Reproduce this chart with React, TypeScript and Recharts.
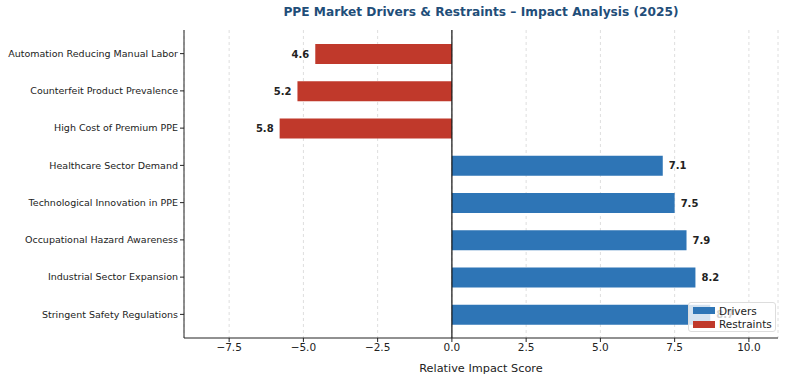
import { BarChart, Bar, XAxis, YAxis, CartesianGrid, ReferenceLine, LabelList } from 'recharts';

const categories = [
  'Automation Reducing Manual Labor',
  'Counterfeit Product Prevalence',
  'High Cost of Premium PPE',
  'Healthcare Sector Demand',
  'Technological Innovation in PPE',
  'Occupational Hazard Awareness',
  'Industrial Sector Expansion',
  'Stringent Safety Regulations',
];
const drivers = [null, null, null, 7.1, 7.5, 7.9, 8.2, 8.7];
const restraints = [-4.6, -5.2, -5.8, null, null, null, null, null];
const xTicks = [-7.5, -5, -2.5, 0, 2.5, 5, 7.5, 10];

const BLUE = '#2e75b6';
const RED = '#c0392b';
const FONT = '"DejaVu Sans", sans-serif';

const data = categories.map((name, i) => ({ name, drivers: drivers[i], restraints: restraints[i] }));

const fmt = (v: number) => v.toFixed(1).replace('-', '\u2212');

function ValueLabel(props: any) {
  const { x, y, width, height, value } = props;
  if (value == null) return null;
  const left = Math.min(x, x + width);
  const right = Math.max(x, x + width);
  const neg = value < 0;
  return (
    <text
      x={neg ? left - 6 : right + 6}
      y={y + height / 2}
      dy="0.35em"
      textAnchor={neg ? 'end' : 'start'}
      fontSize={10}
      fontWeight="bold"
      fill="#222"
      fontFamily={FONT}
    >
      {Math.abs(value).toFixed(1)}
    </text>
  );
}

function CategoryTick(props: any) {
  const { x, y, payload } = props;
  return (
    <text x={x} y={y} dy="0.35em" textAnchor="end" fontSize={9.5} fill="#222" fontFamily={FONT}>
      {payload.value}
    </text>
  );
}

export default function App() {
  return (
    <div style={{ position: 'absolute', left: 0, top: 0, width: 788, height: 382, background: '#fff', fontFamily: FONT }}>
      <div
        style={{
          position: 'absolute', left: 184, width: 594, top: 5, textAlign: 'center',
          fontSize: 12.2, fontWeight: 'bold', color: '#1f4e79',
        }}
      >
        PPE Market Drivers &amp; Restraints – Impact Analysis (2025)
      </div>
      <BarChart
        width={788}
        height={382}
        data={data}
        layout="vertical"
        margin={{ top: 30, right: 10, bottom: 14, left: 0 }}
        barSize={20}
      >
        <CartesianGrid horizontal={false} stroke="#dedede" strokeDasharray="3 3" />
        <ReferenceLine x={0} stroke="#111" strokeWidth={1.2} />
        <XAxis
          type="number"
          domain={[-9.02, 10.98]}
          ticks={xTicks}
          tickFormatter={fmt}
          allowDataOverflow
          height={30}
          stroke="#222"
          tick={{ fill: '#222', fontSize: 10.5, fontFamily: FONT }}
          tickSize={4}
          label={{ value: 'Relative Impact Score', position: 'insideBottom', offset: -4, fill: '#222', fontSize: 11.3, fontFamily: FONT }}
        />
        <YAxis
          type="category"
          dataKey="name"
          width={184}
          stroke="#222"
          tickSize={4}
          padding={{ top: 5, bottom: 5 }}
          tick={<CategoryTick />}
        />
        <Bar dataKey="drivers" name="Drivers" stackId="a" fill={BLUE} isAnimationActive={false}>
          <LabelList dataKey="drivers" content={ValueLabel} />
        </Bar>
        <Bar dataKey="restraints" name="Restraints" stackId="a" fill={RED} isAnimationActive={false}>
          <LabelList dataKey="restraints" content={ValueLabel} />
        </Bar>
      </BarChart>
      <div
        style={{
          position: 'absolute', left: 688, top: 302, width: 88, height: 30,
          border: '1px solid #ddd', borderRadius: 3, background: 'rgba(255,255,255,0.8)',
          fontSize: 10.5, color: '#222', padding: '1px 0 0 4px', boxSizing: 'border-box',
        }}
      >
        {[['Drivers', BLUE], ['Restraints', RED]].map(([label, color]) => (
          <div key={label} style={{ display: 'flex', alignItems: 'center', height: 13.5 }}>
            <span style={{ display: 'inline-block', width: 22, height: 7, background: color, marginRight: 4 }} />
            {label}
          </div>
        ))}
      </div>
    </div>
  );
}
